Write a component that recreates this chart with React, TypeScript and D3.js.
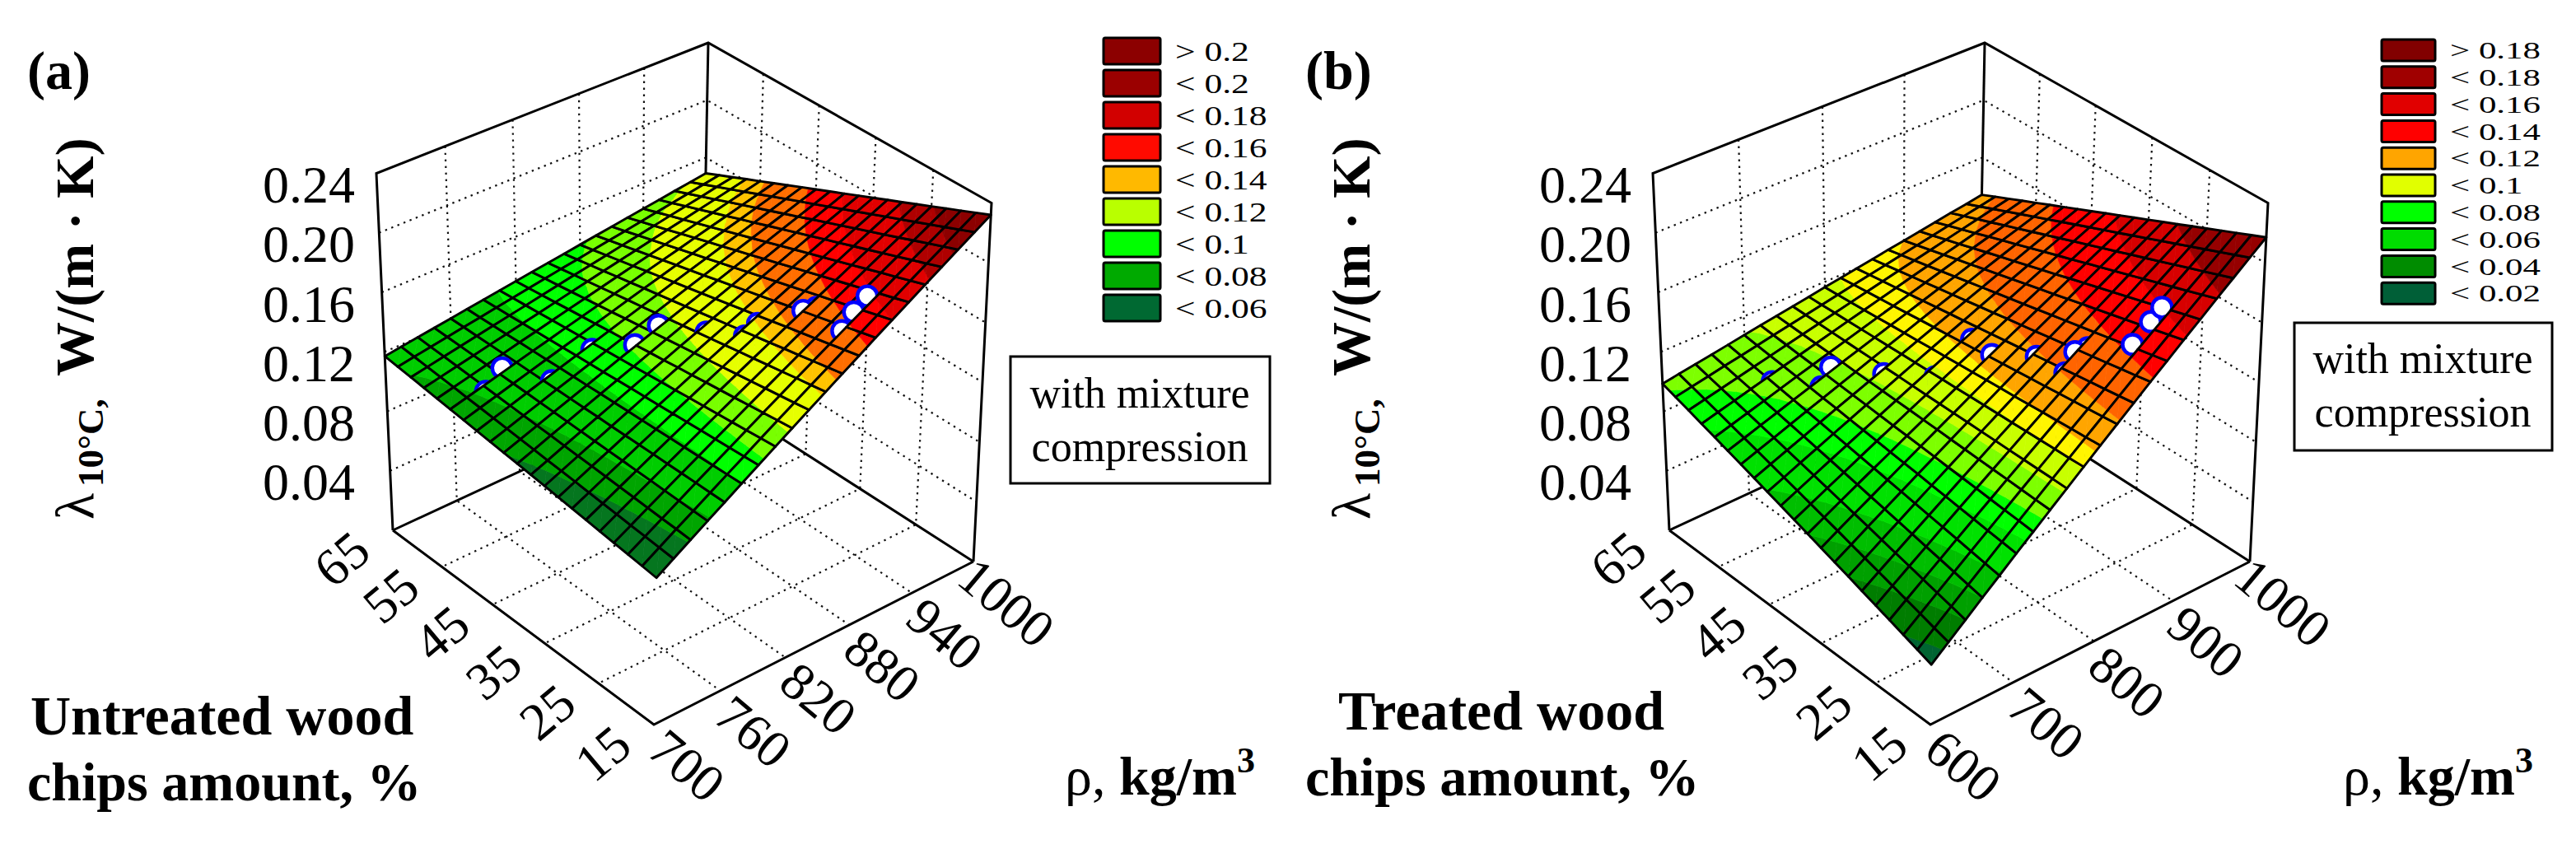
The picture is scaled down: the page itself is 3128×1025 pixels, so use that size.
import * as d3 from 'd3'

// Surface node heights, lambda in 1e-4 W/(m K). Rows run from 15 % to 65 %, columns from the lowest to the highest density.
// Estimated by eye from the edges and corners of the mesh in the picture, interior nodes included.
const surfaceA = [
  [930,1000,1069,1139,1208,1278,1347,1417,1486,1556,1625,1695,1764,1834,1903,1973,2042,2112,2181,2251,2320],
  [942,1009,1076,1142,1209,1276,1343,1410,1477,1543,1610,1677,1744,1811,1878,1944,2011,2078,2145,2212,2279],
  [954,1018,1082,1146,1211,1275,1339,1403,1467,1531,1596,1660,1724,1788,1852,1916,1980,2045,2109,2173,2237],
  [966,1027,1089,1150,1212,1273,1335,1396,1458,1519,1581,1642,1704,1765,1827,1888,1950,2011,2073,2134,2196],
  [978,1037,1096,1154,1213,1272,1331,1390,1448,1507,1566,1625,1684,1742,1801,1860,1919,1978,2036,2095,2154],
  [990,1046,1102,1158,1215,1271,1327,1383,1439,1495,1551,1607,1664,1720,1776,1832,1888,1944,2000,2056,2113],
  [1002,1055,1109,1162,1216,1269,1323,1376,1430,1483,1537,1590,1643,1697,1750,1804,1857,1911,1964,2018,2071],
  [1014,1065,1116,1166,1217,1268,1319,1369,1420,1471,1522,1573,1623,1674,1725,1776,1826,1877,1928,1979,2030],
  [1026,1074,1122,1170,1218,1267,1315,1363,1411,1459,1507,1555,1603,1651,1699,1748,1796,1844,1892,1940,1988],
  [1038,1083,1129,1174,1220,1265,1311,1356,1401,1447,1492,1538,1583,1629,1674,1719,1765,1810,1856,1901,1947],
  [1050,1093,1136,1178,1221,1264,1307,1349,1392,1435,1478,1520,1563,1606,1649,1691,1734,1777,1820,1862,1905],
  [1062,1102,1142,1182,1222,1262,1302,1343,1383,1423,1463,1503,1543,1583,1623,1663,1703,1743,1783,1823,1864],
  [1074,1111,1149,1186,1224,1261,1298,1336,1373,1411,1448,1485,1523,1560,1598,1635,1672,1710,1747,1785,1822],
  [1086,1121,1155,1190,1225,1260,1294,1329,1364,1399,1433,1468,1503,1537,1572,1607,1642,1676,1711,1746,1781],
  [1098,1130,1162,1194,1226,1258,1290,1322,1354,1386,1419,1451,1483,1515,1547,1579,1611,1643,1675,1707,1739],
  [1110,1139,1169,1198,1228,1257,1286,1316,1345,1374,1404,1433,1463,1492,1521,1551,1580,1609,1639,1668,1698],
  [1122,1149,1175,1202,1229,1256,1282,1309,1336,1362,1389,1416,1442,1469,1496,1523,1549,1576,1603,1629,1656],
  [1134,1158,1182,1206,1230,1254,1278,1302,1326,1350,1374,1398,1422,1446,1470,1494,1518,1542,1566,1590,1615],
  [1146,1167,1189,1210,1231,1253,1274,1295,1317,1338,1360,1381,1402,1424,1445,1466,1488,1509,1530,1552,1573],
  [1158,1177,1195,1214,1233,1251,1270,1289,1307,1326,1345,1363,1382,1401,1419,1438,1457,1475,1494,1513,1532],
  [1170,1186,1202,1218,1234,1250,1266,1282,1298,1314,1330,1346,1362,1378,1394,1410,1426,1442,1458,1474,1490],
]

const surfaceB = [
  [380,470,559,649,738,828,917,1007,1096,1186,1275,1365,1454,1544,1633,1723,1812,1902,1991,2081,2170],
  [410,496,582,668,754,840,926,1012,1098,1183,1269,1355,1441,1527,1613,1699,1785,1871,1957,2043,2129],
  [441,523,605,687,770,852,934,1017,1099,1181,1264,1346,1428,1511,1593,1675,1758,1840,1922,2005,2087],
  [471,550,628,707,786,865,943,1022,1101,1179,1258,1337,1416,1494,1573,1652,1731,1809,1888,1967,2046],
  [501,576,651,726,802,877,952,1027,1102,1177,1253,1328,1403,1478,1553,1628,1703,1779,1854,1929,2004],
  [531,603,674,746,817,889,961,1032,1104,1175,1247,1318,1390,1462,1533,1605,1676,1748,1819,1891,1963],
  [562,629,697,765,833,901,969,1037,1105,1173,1241,1309,1377,1445,1513,1581,1649,1717,1785,1853,1921],
  [592,656,721,785,849,914,978,1042,1107,1171,1236,1300,1364,1429,1493,1558,1622,1686,1751,1815,1880],
  [622,683,744,804,865,926,987,1048,1108,1169,1230,1291,1352,1412,1473,1534,1595,1656,1716,1777,1838],
  [652,709,767,824,881,938,996,1053,1110,1167,1224,1282,1339,1396,1453,1510,1568,1625,1682,1739,1797],
  [683,736,790,843,897,951,1004,1058,1111,1165,1219,1272,1326,1380,1433,1487,1540,1594,1648,1701,1755],
  [713,763,813,863,913,963,1013,1063,1113,1163,1213,1263,1313,1363,1413,1463,1513,1564,1614,1664,1714],
  [743,789,836,882,929,975,1022,1068,1115,1161,1208,1254,1300,1347,1393,1440,1486,1533,1579,1626,1672],
  [773,816,859,902,945,988,1030,1073,1116,1159,1202,1245,1288,1330,1373,1416,1459,1502,1545,1588,1631],
  [804,843,882,921,961,1000,1039,1078,1118,1157,1196,1236,1275,1314,1353,1393,1432,1471,1510,1550,1589],
  [834,869,905,941,977,1012,1048,1084,1119,1155,1191,1226,1262,1298,1333,1369,1405,1441,1476,1512,1548],
  [864,896,928,960,992,1025,1057,1089,1121,1153,1185,1217,1249,1281,1313,1346,1378,1410,1442,1474,1506],
  [894,923,951,980,1008,1037,1065,1094,1122,1151,1179,1208,1236,1265,1293,1322,1350,1379,1407,1436,1465],
  [925,949,974,999,1024,1049,1074,1099,1124,1149,1174,1199,1224,1249,1273,1298,1323,1348,1373,1398,1423],
  [955,976,997,1019,1040,1061,1083,1104,1125,1147,1168,1190,1211,1232,1254,1275,1296,1318,1339,1360,1382],
  [985,1003,1021,1038,1056,1074,1092,1109,1127,1145,1163,1180,1198,1216,1234,1251,1269,1287,1305,1322,1340],
]

// measured points
const pointDensityA = [733,751,768,804.9,820,841.8,845.9,859.3,868.7,880.6,890.6,908.3,895.8,893.5,908.8,922.7]
const pointAmountA = [52.75,53.35,47.6,47.6,42.8,42.8,37.6,37.6,32.6,32.6,27.6,27.6,27.6,20.45,21.3,21.6]
const pointLambdaA = [0.1115,0.12,0.1194,0.1284,0.138,0.144,0.138,0.146,0.152,0.1565,0.1557,0.17,0.172,0.1758,0.1814,0.1869]

const pointDensityB = [686.7,714.3,730,743.7,758.8,790.1,835.2,818.4,824.4,836.9,844.9,873,845.3,859.9,883.2,905.2,920]
const pointAmountB = [57.6,52.6,53.15,47.6,47.6,42.8,42.8,37.6,37.6,32.6,32.6,27.6,27.6,28,21.35,21.35,21.5]
const pointLambdaB = [0.0962,0.0977,0.106,0.0985,0.1075,0.1092,0.1235,0.1164,0.128,0.1213,0.1335,0.1442,0.1342,0.1438,0.1585,0.1684,0.1741]

// colour bands on the surface
const bandEdgesA = [0.106,0.115,0.128,0.137,0.147,0.161,0.167,0.18,0.19,0.206,0.216]
const bandColorsA = ['#05761f','#00a500','#00cd00','#00ff00','#78ff00','#e6ff00','#ffc300','#ff6e00','#ff0000','#e10000','#af0000','#8c0000']
const bandEdgesB = [0.044,0.056,0.065,0.075,0.088,0.097,0.108,0.118,0.125,0.138,0.156,0.174,0.192]
const bandColorsB = ['#006432','#007d00','#00a000','#00be00','#00e100','#00ff00','#7dff00','#c8ff00','#fff500','#ffa500','#ff6400','#ff0000','#d70000','#960000']

const densityTicksA = [700,760,820,880,940,1000]
const densityTicksB = [600,700,800,900,1000]
const amountTicks = [15,25,35,45,55,65]
const lambdaTicks = [0.04,0.08,0.12,0.16,0.2,0.24]

const legendLabelsA = ['> 0.2','< 0.2','< 0.18','< 0.16','< 0.14','< 0.12','< 0.1','< 0.08','< 0.06']
const legendColorsA = ['#8c0000','#9b0000','#d20000','#ff0a00','#ffb900','#b9ff00','#00ff00','#00aa00','#006932']
const legendLabelsB = ['> 0.18','< 0.18','< 0.16','< 0.14','< 0.12','< 0.1','< 0.08','< 0.06','< 0.04','< 0.02']
const legendColorsB = ['#820000','#a00000','#e10000','#ff0000','#ffa500','#e1ff00','#00ff00','#00dc00','#008c00','#005f37']

type Pt = [number, number]
const SERIF = '"Liberation Serif", "Times New Roman", serif'

// box corners on screen: front, right, back, left
const floorQuad: Pt[] = [[794, 880], [1182, 682], [852, 470], [477, 644]]
const topQuad: Pt[] = [[802, 420], [1204, 246.5], [860, 52], [457, 210.5]]

function homography(q: Pt[]) {
  const [[x0, y0], [x1, y1], [x2, y2], [x3, y3]] = q
  const dx1 = x1 - x2, dx2 = x3 - x2, sx = x0 - x1 + x2 - x3
  const dy1 = y1 - y2, dy2 = y3 - y2, sy = y0 - y1 + y2 - y3
  const det = dx1 * dy2 - dx2 * dy1
  const g = (sx * dy2 - dx2 * sy) / det
  const h = (dx1 * sy - sx * dy1) / det
  const a = x1 - x0 + g * x1, b = x3 - x0 + h * x3
  const d = y1 - y0 + g * y1, e = y3 - y0 + h * y3
  return (u: number, v: number): Pt => {
    const w = g * u + h * v + 1
    return [(a * u + b * v + x0) / w, (d * u + e * v + y0) / w]
  }
}

const floorMap = homography(floorQuad)
const topMap = homography(topQuad)
const lambdaScale = d3.scaleLinear().domain([0, 0.24]).range([0, 1])
const amountScale = d3.scaleLinear().domain([15, 65]).range([0, 1])
const nodeScale = d3.scaleLinear().domain([0, 20]).range([0, 1])

function project(u: number, v: number, t: number): Pt {
  const a = floorMap(u, v)
  const b = topMap(u, v)
  return [a[0] + (b[0] - a[0]) * t, a[1] + (b[1] - a[1]) * t]
}

const lineGen = d3.line<Pt>()

type Vertex = { p: Pt; z: number }

function clipBelow(poly: Vertex[], limit: number, keepAbove: boolean) {
  const out: Vertex[] = []
  const inside = (z: number) => (keepAbove ? z >= limit : z <= limit)
  poly.forEach((cur, i) => {
    const next = poly[(i + 1) % poly.length]
    if (inside(cur.z)) out.push(cur)
    if (inside(cur.z) !== inside(next.z)) {
      const f = (limit - cur.z) / (next.z - cur.z)
      out.push({
        p: [cur.p[0] + (next.p[0] - cur.p[0]) * f, cur.p[1] + (next.p[1] - cur.p[1]) * f],
        z: limit,
      })
    }
  })
  return out
}

function Panel({ surface, densityTicks, pointDensity, pointAmount, pointLambda, bandEdges, bandColors }: any) {
  const density = d3.scaleLinear().domain(d3.extent(densityTicks) as [number, number]).range([0, 1])
  const node = (i: number, j: number): Vertex => {
    const z = surface[i][j] * 1e-4
    return { p: project(nodeScale(j), nodeScale(i), lambdaScale(z)), z }
  }

  const edges = [-1, ...bandEdges, 1]
  const rows: any[] = []
  for (let i = 19; i >= 0; i--) {
    const cells: any[] = []
    for (let j = 0; j < 20; j++) {
      const a = node(i, j), b = node(i, j + 1), c = node(i + 1, j + 1), d = node(i + 1, j)
      const parts: any[] = []
      ;[[a, b, c], [a, c, d]].forEach((tri, t) => {
        bandColors.forEach((col: string, k: number) => {
          const low = clipBelow(tri, edges[k], true)
          if (low.length < 3) return
          const band = clipBelow(low, edges[k + 1], false)
          if (band.length < 3) return
          parts.push(
            <path key={`${t}-${k}`} d={lineGen(band.map(v => v.p)) + 'Z'} fill={col} stroke={col} strokeWidth={0.7} />
          )
        })
      })
      cells.push(
        <g key={j}>
          {parts}
          <path d={lineGen([a.p, b.p, c.p, d.p]) + 'Z'} fill="none" stroke="#000" strokeWidth={2.9} strokeLinejoin="round" />
        </g>
      )
    }
    rows.push(<g key={`row-${i}`}>{cells}</g>)
    pointDensity.forEach((dv: number, k: number) => {
      const am = pointAmount[k]
      if (Math.floor((am - 15) / 2.5) !== i) return
      const [cx, cy] = project(density(dv), amountScale(am), lambdaScale(pointLambda[k]))
      rows.push(<circle key={`pt-${k}`} cx={cx} cy={cy} r={12} fill="#fff" stroke="#0000ff" strokeWidth={4.4} />)
    })
  }

  const dotted = { fill: 'none', stroke: '#111', strokeWidth: 2.2, strokeDasharray: '2.4 5.6' }
  const solid = { fill: 'none', stroke: '#000', strokeWidth: 3 }
  const seg = (pts: Pt[]) => lineGen(pts) as string

  return (
    <g fontFamily={SERIF}>
      {lambdaTicks.slice(0, -1).map(t => (
        <path key={t} d={seg([project(0, 1, lambdaScale(t)), project(1, 1, lambdaScale(t)), project(1, 0, lambdaScale(t))])} {...dotted} />
      ))}
      {densityTicks.slice(1, -1).map((t: number) => (
        <path key={t} d={seg([project(density(t), 1, 1), project(density(t), 1, 0), project(density(t), 0, 0)])} {...dotted} />
      ))}
      {amountTicks.slice(1, -1).map(t => (
        <path key={t} d={seg([project(1, amountScale(t), 1), project(1, amountScale(t), 0), project(0, amountScale(t), 0)])} {...dotted} />
      ))}
      <path d={seg([project(0, 1, 0), project(0, 1, 1), project(1, 1, 1), project(1, 0, 1), project(1, 0, 0)])} {...solid} />
      <path d={seg([project(1, 1, 1), project(1, 1, 0)])} {...solid} />
      <path d={seg([project(0, 1, 0), project(0, 0, 0), project(1, 0, 0)])} {...solid} />
      <path d={seg([project(0, 1, 0), project(1, 1, 0), project(1, 0, 0)])} {...solid} />
      {rows}
      {lambdaTicks.map(t => (
        <text key={t} x={431} y={project(0, 1, lambdaScale(t))[1] + 14} textAnchor="end" dominantBaseline="central" fontSize={64}>
          {t.toFixed(2)}
        </text>
      ))}
      {amountTicks.map(t => {
        const [x, y] = project(0, amountScale(t), 0)
        return (
          <text key={t} transform={`translate(${x - 62},${y + 35}) rotate(-40)`} textAnchor="middle" dominantBaseline="central" fontSize={64}>
            {t}
          </text>
        )
      })}
      {densityTicks.map((t: number) => {
        const [x, y] = project(density(t), 0, 0)
        return (
          <text key={t} transform={`translate(${x + 40},${y + 50}) rotate(40)`} textAnchor="middle" dominantBaseline="central" fontSize={64}>
            {t}
          </text>
        )
      })}
      <text transform="translate(113,631) rotate(-90)" fontSize={66}>
        <tspan x={0}>λ</tspan>
        <tspan x={40} dy={12} fontSize={45} fontWeight="bold">10°C,</tspan>
        <tspan x={174} dy={-12} fontWeight="bold">W/(m · K)</tspan>
      </text>
    </g>
  )
}

function Legend({ x, y, w, h, step, textX, fontSize, stretch, labels, colors }: any) {
  return (
    <g fontFamily={SERIF}>
      {labels.map((l: string, i: number) => (
        <g key={l}>
          <rect x={x} y={y + i * step} width={w} height={h} rx={2} fill={colors[i]} stroke="#000" strokeWidth={3} />
          <text transform={`translate(${textX},${y + i * step + h / 2}) scale(${stretch},1)`} dominantBaseline="central" fontSize={fontSize}>
            {l}
          </text>
        </g>
      ))}
    </g>
  )
}

function NoteBox({ x, y, w, h, cx, b1, b2 }: any) {
  return (
    <g fontFamily={SERIF} fontSize={52} textAnchor="middle">
      <rect x={x} y={y} width={w} height={h} fill="#fff" stroke="#000" strokeWidth={3} />
      <text x={cx} y={b1}>with mixture</text>
      <text x={cx} y={b2}>compression</text>
    </g>
  )
}

function DensityTitle({ x }: { x: number }) {
  return (
    <text x={x} y={965} fontSize={66}>
      ρ, <tspan fontWeight="bold">kg/m</tspan><tspan dy={-27} fontSize={44} fontWeight="bold">3</tspan>
    </text>
  )
}

export default function App() {
  return (
    <svg width={3128} height={1025} style={{ position: 'fixed', left: 0, top: 0, display: 'block', background: '#fff' }}>
      <Panel surface={surfaceA} densityTicks={densityTicksA} pointDensity={pointDensityA} pointAmount={pointAmountA}
        pointLambda={pointLambdaA} bandEdges={bandEdgesA} bandColors={bandColorsA} />
      <g transform="translate(1550,0)">
        <Panel surface={surfaceB} densityTicks={densityTicksB} pointDensity={pointDensityB} pointAmount={pointAmountB}
          pointLambda={pointLambdaB} bandEdges={bandEdgesB} bandColors={bandColorsB} />
      </g>

      <g fontFamily={SERIF} fontWeight="bold" fontSize={66}>
        <text x={33} y={108}>(a)</text>
        <text x={1585} y={108}>(b)</text>
        <text x={37} y={892} fontSize={68}>Untreated wood</text>
        <text x={33} y={972}>chips amount, %</text>
        <text x={1625} y={886} fontSize={68}>Treated wood</text>
        <text x={1585} y={966}>chips amount, %</text>
      </g>
      <g fontFamily={SERIF}>
        <DensityTitle x={1293} />
        <DensityTitle x={2845} />
      </g>

      <Legend x={1340} y={46} w={69} h={32} step={39} textX={1427} fontSize={34} stretch={1.28}
        labels={legendLabelsA} colors={legendColorsA} />
      <Legend x={2892} y={48} w={65} h={26} step={32.8} textX={2975} fontSize={30} stretch={1.43}
        labels={legendLabelsB} colors={legendColorsB} />
      <NoteBox x={1227} y={433} w={315} h={154} cx={1384} b1={495} b2={560} />
      <NoteBox x={2786} y={392} w={313} h={155} cx={2942} b1={453} b2={518} />
    </svg>
  )
}
